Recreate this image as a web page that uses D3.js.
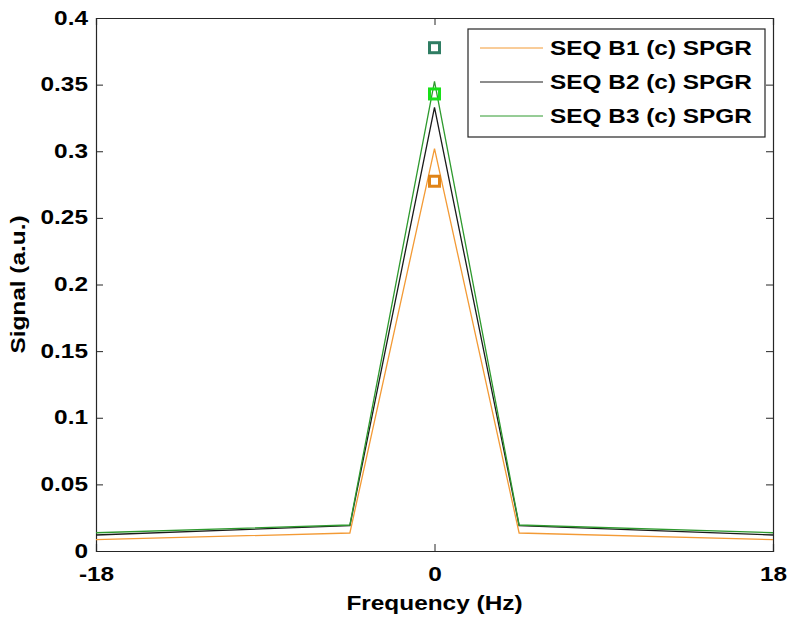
<!DOCTYPE html>
<html lang="en">
<head>
    <meta charset="UTF-8">
    <title>Signal vs Frequency</title>
    <script src="https://d3js.org/d3.v7.min.js"></script>
    <style>
        body { margin: 0; background: #fff; }
        svg text {
            font-family: "Liberation Sans", Arial, sans-serif;
            font-weight: bold;
            font-size: 20px;
            fill: #000;
        }
        .axis path, .axis line { stroke: #262626; }
    </style>
</head>
<body>
    <svg id="chart" width="790" height="618"></svg>

    <script>
        // data
        const freq = [-18, -4.5, 0, 4.5, 18];
        const seqB1 = [0.0085, 0.0135, 0.302, 0.0135, 0.0085];
        const seqB2 = [0.012, 0.019, 0.333, 0.019, 0.012];
        const seqB3 = [0.0137, 0.0195, 0.3525, 0.0195, 0.0137];
        const seriesNames = ["SEQ B1 (c) SPGR", "SEQ B2 (c) SPGR", "SEQ B3 (c) SPGR"];
        const seriesColors = ["#f39a35", "#1a1a1a", "#2e9a2e"];

        // square markers at 0 Hz
        const markerFreq = [0, 0, 0];
        const markerVals = [0.3777, 0.343, 0.2775];
        const markerColors = ["#2f7d63", "#18e018", "#e08418"];

        const xTicks = [-18, 0, 18];
        const xTickLabels = ["-18", "0", "18"];
        const yTicks = [0, 0.05, 0.1, 0.15, 0.2, 0.25, 0.3, 0.35, 0.4];
        const yTickLabels = ["0", "0.05", "0.1", "0.15", "0.2", "0.25", "0.3", "0.35", "0.4"];

        const svg = d3.select("#chart");
        const margin = { left: 96, right: 17, top: 18, bottom: 67 };
        const W = 790, H = 618;
        const x = d3.scaleLinear().domain([-18, 18]).range([margin.left, W - margin.right]);
        const y = d3.scaleLinear().domain([0, 0.4]).range([H - margin.bottom, margin.top]);
        const stretch = 1.22; // the reference font is set wide

        // axes, ticks pointing inward on all four sides
        svg.append("g").attr("class", "axis")
            .attr("transform", `translate(0,${y(0)})`)
            .call(d3.axisBottom(x).tickValues(xTicks).tickSize(-7).tickPadding(9)
                .tickFormat((d, i) => xTickLabels[i]))
            .call(g => g.selectAll("text").attr("dy", "1.05em")
                .attr("transform", `scale(${stretch},1)`));
        svg.append("g").attr("class", "axis")
            .attr("transform", `translate(0,${y(0.4)})`)
            .call(d3.axisTop(x).tickValues(xTicks).tickSize(-7).tickFormat(""));
        svg.append("g").attr("class", "axis")
            .attr("transform", `translate(${x(-18)},0)`)
            .call(d3.axisLeft(y).tickValues(yTicks).tickSize(-7).tickPadding(8)
                .tickFormat((d, i) => yTickLabels[i]))
            .call(g => g.selectAll("text").attr("x", -8 / stretch).attr("dy", "0.3em")
                .attr("transform", `scale(${stretch},1)`));
        svg.append("g").attr("class", "axis")
            .attr("transform", `translate(${x(18)},0)`)
            .call(d3.axisRight(y).tickValues(yTicks).tickSize(-7).tickFormat(""));
        svg.selectAll(".axis .domain").attr("stroke-width", 1.2);

        // lines
        const line = d3.line().x((d, i) => x(freq[i])).y(d => y(d));
        [seqB1, seqB2, seqB3].forEach((vals, k) => {
            svg.append("path")
                .datum(vals)
                .attr("d", line)
                .attr("fill", "none")
                .attr("stroke", seriesColors[k])
                .attr("stroke-width", 1.3);
        });

        // markers
        const ms = 10;
        svg.append("g").selectAll("rect")
            .data(markerVals)
            .enter()
            .append("rect")
            .attr("x", (d, i) => x(markerFreq[i]) - ms / 2)
            .attr("y", d => y(d) - ms / 2)
            .attr("width", ms)
            .attr("height", ms)
            .attr("fill", "none")
            .attr("stroke", (d, i) => markerColors[i])
            .attr("stroke-width", 3);

        // axis labels
        svg.append("text")
            .attr("transform", `translate(${x(0)},610) scale(${stretch},1)`)
            .attr("text-anchor", "middle")
            .text("Frequency (Hz)");
        svg.append("text")
            .attr("transform", `translate(25,${y(0.2)}) rotate(-90) scale(${stretch},1)`)
            .attr("text-anchor", "middle")
            .text("Signal (a.u.)");

        // legend
        const lg = svg.append("g").attr("transform", "translate(468,29)");
        lg.append("rect")
            .attr("width", 297).attr("height", 108)
            .attr("fill", "#fff").attr("stroke", "#262626").attr("stroke-width", 1.2);
        seriesNames.forEach((name, k) => {
            const ly = 19 + k * 34;
            lg.append("line")
                .attr("x1", 12).attr("x2", 75)
                .attr("y1", ly).attr("y2", ly)
                .attr("stroke", seriesColors[k]).attr("stroke-width", 1);
            lg.append("text")
                .attr("transform", `translate(82,${ly + 7}) scale(${stretch},1)`)
                .text(name);
        });
    </script>
</body>
</html>
